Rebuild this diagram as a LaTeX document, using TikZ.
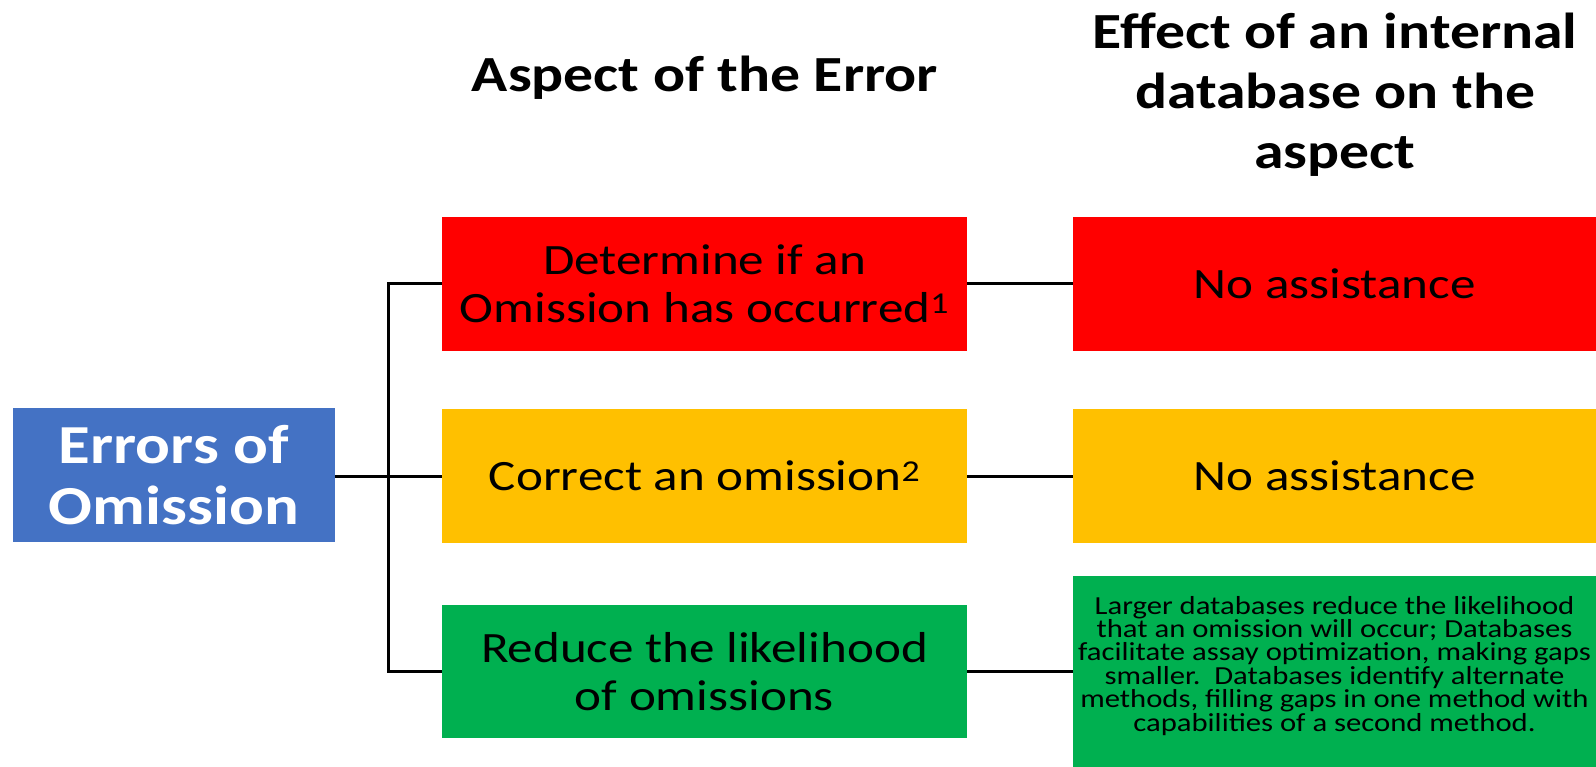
\documentclass[tikz,border=0pt]{standalone}
\usepackage{fontspec}
\setmainfont{Carlito}[FakeStretch=1.18]
\definecolor{cRed}{HTML}{FF0000}
\definecolor{cAmber}{HTML}{FFC000}
\definecolor{cGreen}{HTML}{00B050}
\definecolor{cBlue}{HTML}{4472C4}
\begin{document}
\begin{tikzpicture}[x=1pt,y=-1pt,
  box/.style={rectangle, inner sep=0pt, align=center, text=black,
    font=\fontsize{43.3}{47.5}\selectfont},
  aspect/.style={box, minimum width=525pt, minimum height=134pt},
  effect/.style={box, minimum width=523pt, minimum height=134pt},
  head/.style={align=center, inner sep=0pt,
    font=\fontsize{50.6}{60}\selectfont\bfseries},
  link/.style={line width=3pt, draw=black}]
\useasboundingbox (0,0) rectangle (1596,767);

% column headings
\node[head] (hAspect) at (705,78) {Aspect of the Error};
\node[head] (hEffect) at (1335,95) {Effect of an internal\\database on the\\aspect};

% root
\node[box, fill=cBlue, text=white, minimum width=322pt, minimum height=134pt,
  font=\fontsize{55}{61}\selectfont\bfseries] (root) at (174,475) {Errors of\\Omission};

% aspects of the error
\node[aspect, fill=cRed] (detect) at (704.5,284)
  {Determine if an\\Omission has occurred\textsuperscript{1}};
\node[aspect, fill=cAmber] (correct) at (704.5,476)
  {Correct an omission\textsuperscript{2}};
\node[aspect, fill=cGreen, minimum height=133pt] (reduce) at (704.5,671.5)
  {Reduce the likelihood\\of omissions};

% effect of the database
\node[effect, fill=cRed] (effDetect) at (1334.5,284) {No assistance};
\node[effect, fill=cAmber] (effCorrect) at (1334.5,476) {No assistance};
\node[effect, fill=cGreen, minimum height=191pt,
  font=\fontsize{26}{23.4}\selectfont] (effReduce) at (1334.5,671.5)
  {Larger databases reduce the likelihood\\that an omission will occur; Databases\\
   facilitate assay optimization, making gaps\\smaller.\ \ Databases identify alternate\\
   methods, filling gaps in one method with\\capabilities of a second method.\rule[-16pt]{0pt}{1pt}};

% tree connectors
\coordinate (trunk) at (388,476);
\draw[link] (root.east |- trunk) -- (trunk) -- (correct.west);
\draw[link] (detect.west) -| (trunk) |- (reduce.west);
\draw[link] (detect.east) -- (effDetect.west);
\draw[link] (correct.east) -- (effCorrect.west);
\draw[link] (reduce.east) -- (effReduce.west);
\end{tikzpicture}
\end{document}
